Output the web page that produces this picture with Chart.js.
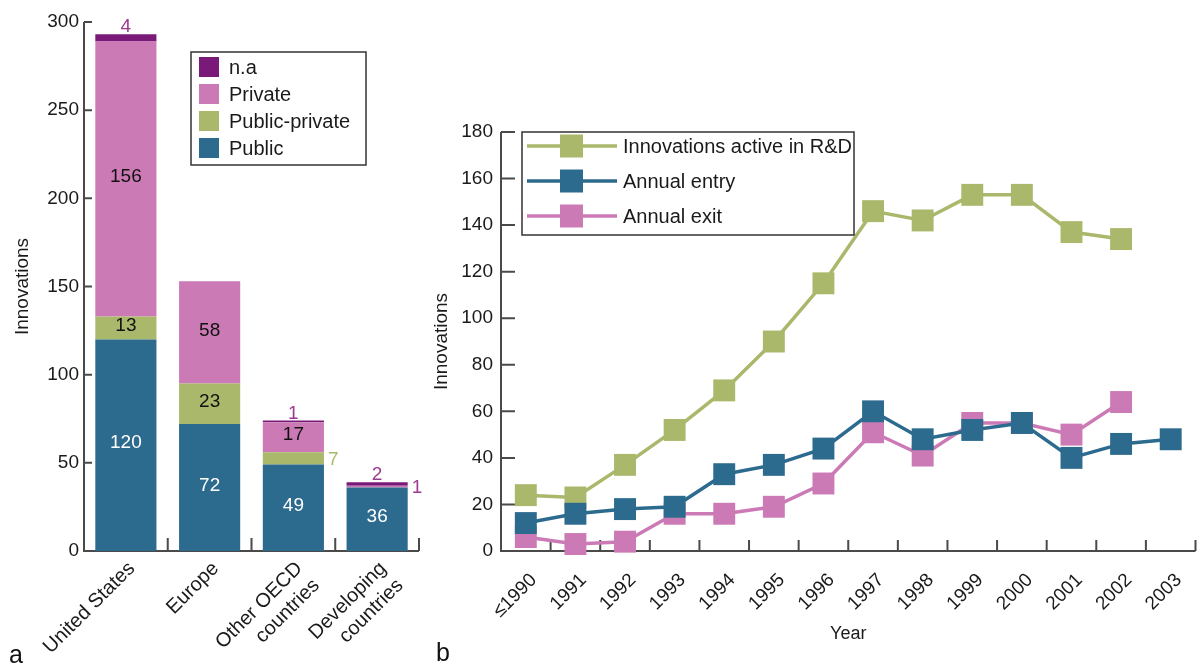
<!DOCTYPE html>
<html>
<head>
<meta charset="utf-8">
<script src="https://cdn.jsdelivr.net/npm/chart.js@4.4.1/dist/chart.umd.min.js"></script>
<style>
html, body { margin: 0; padding: 0; background: #fff; overflow: hidden; width: 1204px; height: 672px; }
#wrap_a { position: absolute; left: 0; top: 0; width: 430px; height: 672px; }
#wrap_b { position: absolute; left: 430px; top: 0; width: 781px; height: 672px; }
.panel { position: absolute; font: 25px "Liberation Sans", Arial, sans-serif; color: #111; }
</style>
</head>
<body>
<div id="wrap_a"><canvas id="chart_a"></canvas></div>
<div id="wrap_b"><canvas id="chart_b"></canvas></div>
<div class="panel" style="left:9px; top:640px;">a</div>
<div class="panel" style="left:436px; top:638px;">b</div>
<script>
// panel a: innovations by region and sponsor
const regions = ["United States", "Europe", ["Other OECD", "countries"], ["Developing", "countries"]];
const public_vals = [120, 72, 49, 36];
const public_private_vals = [13, 23, 7, 0];
const private_vals = [156, 58, 17, 1];
const na_vals = [4, 0, 1, 2];

// panel b: innovations per year
const years = ["\u22641990", "1991", "1992", "1993", "1994", "1995", "1996", "1997", "1998", "1999", "2000", "2001", "2002", "2003"];
const active_rd = [24, 23, 37, 52, 69, 90, 115, 146, 142, 153, 153, 137, 134, null];
const annual_entry = [12, 16, 18, 19, 33, 37, 44, 60, 48, 52, 55, 40, 46, 48];
const annual_exit = [6, 3, 4, 16, 16, 19, 29, 51, 41, 55, 55, 50, 64, null];

const FONT = '"Liberation Sans", Arial, sans-serif';
const BLUE = "#2c6a8e";
const GREEN = "#a9b86b";
const PINK = "#cb7ab5";
const PURPLE = "#7a1a78";
const AXIS = "#4a4a4a";

Chart.defaults.font.family = FONT;
Chart.defaults.color = "#1a1a1a";

// axis lines + inward tick marks, ticks between categories
const axis_marks = {
    id: "axis_marks",
    beforeDatasetsDraw(chart, args, opts) {
        const ctx = chart.ctx;
        const a = chart.chartArea;
        const x = chart.scales.x;
        const y = chart.scales.y;
        ctx.save();
        ctx.strokeStyle = AXIS;
        ctx.lineWidth = 2;
        ctx.beginPath();
        ctx.moveTo(a.left, a.top);
        ctx.lineTo(a.left, a.bottom);
        ctx.lineTo(a.right, a.bottom);
        for (const t of y.ticks) {
            const py = y.getPixelForValue(t.value);
            ctx.moveTo(a.left, py);
            ctx.lineTo(a.left + opts.y_len, py);
        }
        for (let i = 0; i < x.ticks.length; i++) {
            const px = (x.getPixelForValue(i) + x.getPixelForValue(i + 1)) / 2;
            ctx.moveTo(px, a.bottom);
            ctx.lineTo(px, a.bottom - opts.x_len);
        }
        ctx.stroke();
        ctx.restore();
    }
};

// numbers on the stacked bars
const bar_values = {
    id: "bar_values",
    afterDatasetsDraw(chart) {
        const ctx = chart.ctx;
        ctx.save();
        ctx.font = `19px ${FONT}`;
        chart.data.datasets.forEach((ds, di) => {
            const meta = chart.getDatasetMeta(di);
            const top_set = di == chart.data.datasets.length - 1;
            meta.data.forEach((el, i) => {
                const v = ds.data[i];
                if (!v) return;
                const h = Math.abs(el.base - el.y);
                if (h >= 18) {
                    ctx.fillStyle = ds.inner_text;
                    ctx.textAlign = "center";
                    ctx.textBaseline = "middle";
                    ctx.fillText(v, el.x, (el.y + el.base) / 2 - 2);
                } else if (top_set) {
                    ctx.fillStyle = ds.outer_text;
                    ctx.textAlign = "center";
                    ctx.textBaseline = "alphabetic";
                    ctx.fillText(v, el.x, el.y - 2);
                } else {
                    ctx.fillStyle = ds.outer_text;
                    ctx.textAlign = "left";
                    ctx.textBaseline = "middle";
                    ctx.fillText(v, el.x + el.width / 2 + 4, (el.y + el.base) / 2 + 1);
                }
            });
        });
        ctx.restore();
    }
};

// boxed legend with square swatches (panel a)
const box_legend = {
    id: "box_legend",
    afterDraw(chart, args, o) {
        const ctx = chart.ctx;
        ctx.save();
        ctx.strokeStyle = "#333";
        ctx.lineWidth = 1.5;
        ctx.fillStyle = "#fff";
        ctx.fillRect(o.x, o.y, o.w, o.h);
        ctx.strokeRect(o.x, o.y, o.w, o.h);
        ctx.font = `20px ${FONT}`;
        ctx.textBaseline = "middle";
        const items = chart.data.datasets.slice().reverse();
        items.forEach((ds, i) => {
            const cy = o.y + o.first + i * o.step;
            ctx.fillStyle = ds.backgroundColor;
            ctx.fillRect(o.x + 8, cy - 10, 20, 20);
            ctx.fillStyle = "#1a1a1a";
            ctx.fillText(ds.label, o.x + 38, cy + 1);
        });
        ctx.restore();
    }
};

// boxed legend with line + square samples (panel b)
const line_legend = {
    id: "line_legend",
    afterDraw(chart, args, o) {
        const ctx = chart.ctx;
        ctx.save();
        ctx.strokeStyle = "#333";
        ctx.lineWidth = 1.5;
        ctx.fillStyle = "#fff";
        ctx.fillRect(o.x, o.y, o.w, o.h);
        ctx.strokeRect(o.x, o.y, o.w, o.h);
        ctx.font = `20px ${FONT}`;
        ctx.textBaseline = "middle";
        o.order.forEach((di, i) => {
            const ds = chart.data.datasets[di];
            const cy = o.y + o.first + i * o.step;
            ctx.strokeStyle = ds.borderColor;
            ctx.lineWidth = 3.5;
            ctx.beginPath();
            ctx.moveTo(o.x + 5, cy);
            ctx.lineTo(o.x + 95, cy);
            ctx.stroke();
            ctx.fillStyle = ds.borderColor;
            ctx.fillRect(o.x + 38, cy - 11.5, 23, 23);
            ctx.fillStyle = "#1a1a1a";
            ctx.fillText(ds.label, o.x + 101, cy + 1);
        });
        ctx.restore();
    }
};

const chart_a = new Chart(document.getElementById("chart_a"), {
    type: "bar",
    data: {
        labels: regions,
        datasets: [
            { label: "Public", data: public_vals, backgroundColor: BLUE, inner_text: "#fff", outer_text: BLUE },
            { label: "Public-private", data: public_private_vals, backgroundColor: GREEN, inner_text: "#111", outer_text: GREEN },
            { label: "Private", data: private_vals, backgroundColor: PINK, inner_text: "#111", outer_text: "#9b3a8f" },
            { label: "n.a", data: na_vals, backgroundColor: PURPLE, inner_text: "#fff", outer_text: "#9b3a8f" },
        ],
    },
    options: {
        responsive: true,
        maintainAspectRatio: false,
        animation: false,
        datasets: { bar: { categoryPercentage: 1, barPercentage: 0.73, borderWidth: 0 } },
        layout: { padding: { left: 0, right: 11, top: 22, bottom: 0 } },
        plugins: {
            legend: { display: false },
            tooltip: { enabled: false },
            axis_marks: { y_len: 8, x_len: 13 },
            box_legend: { x: 191, y: 52, w: 175, h: 113, first: 15, step: 27 },
        },
        scales: {
            x: {
                stacked: true,
                grid: { display: false, drawTicks: false },
                border: { display: false },
                ticks: { font: { size: 20 }, color: "#1a1a1a", minRotation: 45, maxRotation: 45, padding: 6, labelOffset: 6, autoSkip: false },
                afterFit: (s) => { s.height = 121; },
            },
            y: {
                stacked: true,
                min: 0,
                max: 300,
                grid: { display: false, drawTicks: false },
                border: { display: false },
                ticks: { stepSize: 50, font: { size: 19 }, color: "#1a1a1a", padding: 5 },
                title: { display: true, text: "Innovations", font: { size: 19 }, color: "#1a1a1a", padding: { top: 11 } },
                afterFit: (s) => { s.width = 84; },
            },
        },
    },
    plugins: [axis_marks, bar_values, box_legend],
});

const chart_b = new Chart(document.getElementById("chart_b"), {
    type: "line",
    data: {
        labels: years,
        datasets: [
            { label: "Innovations active in R&D", data: active_rd, borderColor: GREEN, backgroundColor: GREEN, order: 1 },
            { label: "Annual entry", data: annual_entry, borderColor: BLUE, backgroundColor: BLUE, order: 0 },
            { label: "Annual exit", data: annual_exit, borderColor: PINK, backgroundColor: PINK, order: 2 },
        ],
    },
    options: {
        responsive: true,
        maintainAspectRatio: false,
        animation: false,
        datasets: {
            line: { borderWidth: 3.5, tension: 0, pointStyle: "rect", pointRadius: 15.5, pointBorderWidth: 0, clip: false },
        },
        layout: { padding: { left: 0, right: 0, top: 132, bottom: 0 } },
        plugins: {
            legend: { display: false },
            tooltip: { enabled: false },
            axis_marks: { y_len: 14, x_len: 11 },
            line_legend: { x: 92, y: 132, w: 332, h: 103, first: 14, step: 35, order: [0, 1, 2] },
        },
        scales: {
            x: {
                offset: true,
                grid: { display: false, drawTicks: false, offset: true },
                border: { display: false },
                ticks: { font: { size: 19 }, color: "#1a1a1a", minRotation: 45, maxRotation: 45, padding: 18, labelOffset: 8, autoSkip: false },
                title: { display: true, text: "Year", font: { size: 18 }, color: "#1a1a1a", padding: { bottom: 27 } },
                afterFit: (s) => { s.height = 121; },
            },
            y: {
                min: 0,
                max: 180,
                grid: { display: false, drawTicks: false },
                border: { display: false },
                ticks: { stepSize: 20, font: { size: 19 }, color: "#1a1a1a", padding: 8 },
                title: { display: true, text: "Innovations", font: { size: 19 }, color: "#1a1a1a", padding: { top: 0 } },
                afterFit: (s) => { s.width = 71; },
            },
        },
    },
    plugins: [axis_marks, line_legend],
});
</script>
</body>
</html>
